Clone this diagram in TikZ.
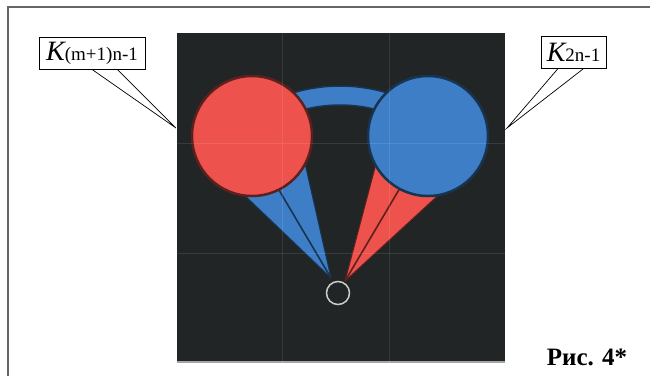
\documentclass[tikz,border=0pt]{standalone}
\usepackage{fontspec}
\setmainfont{Liberation Serif}
\usetikzlibrary{calc}
\definecolor{PlateBlack}{RGB}{33,37,38}
\definecolor{DotRed}{RGB}{238,82,76}
\definecolor{DotBlue}{RGB}{62,126,198}
\definecolor{EdgeRed}{RGB}{92,32,30}
\definecolor{EdgeBlue}{RGB}{24,52,80}
\definecolor{RingGray}{RGB}{205,205,200}
\tikzset{
  tag/.style={draw=black,line width=0.8pt,fill=white,minimum height=32pt,
    inner sep=0pt,align=center},
  leader/.style={draw=black,line width=0.7pt},
  frameline/.style={draw=black!60,line width=1.3pt},
  reddot/.style={circle,draw=EdgeRed,fill=DotRed,line width=2.5pt,
    minimum size=120pt,inner sep=0pt},
  bluedot/.style={circle,draw=EdgeBlue,fill=DotBlue,line width=2.5pt,
    minimum size=120pt,inner sep=0pt},
  bluecone/.style={fill=DotBlue,draw=EdgeBlue,line width=1pt,line join=round},
  redcone/.style={fill=DotRed,draw=EdgeRed,line width=1pt,line join=round},
  band/.style={fill=DotBlue,draw=EdgeBlue,line width=1.5pt},
  ring/.style={circle,draw=RingGray,line width=1.5pt,minimum size=23pt,inner sep=0pt},
  scanline/.style={draw=white,opacity=0.1,line width=0.6pt}
}
\newcommand{\bigK}{\fontsize{28}{30}\selectfont\itshape K}
\newcommand{\tagtext}[1]{{\bigK}{\fontsize{19}{20}\selectfont #1}}

\begin{document}
\begin{tikzpicture}[x=1pt,y=-1pt]
  \useasboundingbox (0,0) rectangle (650,376);
  \fill[white] (0,0) rectangle (650,376);
  \draw[frameline] (8,376) -- (8,7) -- (650,7);

  \fill[PlateBlack] (177,33) rectangle (505,363);
  \draw[black!35,line width=1.5pt] (177,362) -- (505,362);

  \begin{scope}[shift={(340,250)}]
    \filldraw[band] (235:164) arc[start angle=235,end angle=305,radius=164]
      -- (305:145) arc[start angle=305,end angle=235,radius=145] -- cycle;
  \end{scope}

  \coordinate (tipB) at (331,278);
  \coordinate (tipR) at (345,281);
  \filldraw[bluecone] (tipB) -- (239,190) -- (302,150) -- cycle;
  \draw[EdgeBlue,line width=1.6pt] (tipB) -- (276,185);
  \filldraw[redcone] (tipR) -- (377,160) -- (444,190) -- cycle;
  \draw[EdgeRed,line width=1.6pt] (tipR) -- (400,188);

  \node[reddot] (kred) at (252,136) {};
  \node[bluedot] (kblue) at (428,136) {};
  \node[ring] (pivot) at (338,293) {};

  \draw[scanline] (177,143) -- (505,143);
  \draw[scanline] (177,253) -- (505,253);
  \draw[scanline] (282,33) -- (282,363);
  \draw[scanline] (389,33) -- (389,363);

  \node[tag,minimum width=106pt] (tagA) at (92,53) {\tagtext{(m+1)n-1}};
  \node[tag,minimum width=65pt] (tagB) at (573.5,52.5) {\tagtext{2n-1}};
  \coordinate (ptA) at (176,128);
  \coordinate (ptB) at (507,128);
  \draw[leader] ($(tagA.south west)!0.5!(tagA.south east)$) -- (ptA)
    -- ($(tagA.south west)!0.736!(tagA.south east)$);
  \draw[leader] ($(tagB.south west)!0.26!(tagB.south east)$) -- (ptB)
    -- ($(tagB.south west)!0.646!(tagB.south east)$);

  \node[font=\fontsize{25}{27}\selectfont\bfseries] (caption) at (587,357) {Рис. 4*};
\end{tikzpicture}
\end{document}
